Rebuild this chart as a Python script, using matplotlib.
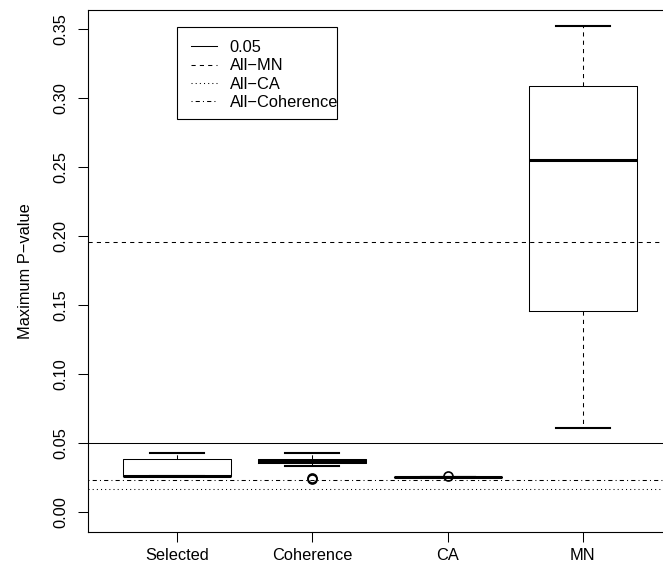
import matplotlib
matplotlib.use("Agg")
import matplotlib.pyplot as plt
from matplotlib.lines import Line2D
from matplotlib.patches import Rectangle

plt.rcParams['font.family'] = ['Liberation Sans', 'DejaVu Sans']

categories = ["Selected", "Coherence", "CA", "MN"]
q1 = [0.0263, 0.0355, 0.0258, 0.1457]
med = [0.0263, 0.0370, 0.0258, 0.2550]
q3 = [0.0386, 0.0385, 0.0258, 0.3090]
whislo = [0.0263, 0.0337, 0.0258, 0.0612]
whishi = [0.0431, 0.0431, 0.0258, 0.3525]
fliers = [[], [0.0240, 0.0250], [0.0260], []]

ref_names = ["0.05", "All\u2212MN", "All\u2212CA", "All\u2212Coherence"]
ref_values = [0.05, 0.1958, 0.0169, 0.0234]
ref_styles = ["-", (0, (4, 4)), (0, (1, 3)), (0, (1, 3, 4, 3))]

yticks = [0.00, 0.05, 0.10, 0.15, 0.20, 0.25, 0.30, 0.35]

FS = 11.8
W, H = 663, 572
fig = plt.figure(figsize=(W / 100, H / 100), dpi=100)
ax = fig.add_axes([88 / W, 40.3 / H, 584 / W, 521.7 / H])

stats = []
for i, c in enumerate(categories):
    stats.append(dict(label=c, q1=q1[i], med=med[i], q3=q3[i],
                      whislo=whislo[i], whishi=whishi[i], fliers=fliers[i]))

lw = 0.75
ax.bxp(stats, positions=range(1, len(categories) + 1), widths=0.8,
       capwidths=0.4, showfliers=True, patch_artist=False,
       boxprops=dict(color="black", linewidth=lw),
       medianprops=dict(color="black", linewidth=2.2, solid_capstyle="butt"),
       whiskerprops=dict(color="black", linewidth=lw, linestyle=(0, (4, 4))),
       capprops=dict(color="black", linewidth=lw * 2),
       flierprops=dict(marker="o", markersize=6.5, markerfacecolor="none",
                       markeredgecolor="black", markeredgewidth=1.2))

for v, s in zip(ref_values, ref_styles):
    ax.axhline(v, color="black", linewidth=lw, linestyle=s)

ax.set_xlim(0.34, 4.66)
ax.set_ylim(-0.014, 0.364)
ax.set_xticks(range(1, len(categories) + 1))
ax.set_xticklabels(categories)
ax.set_yticks(yticks)
ax.set_yticklabels(["%.2f" % t for t in yticks], rotation=90, va="center")
ax.tick_params(axis="both", direction="out", length=7, width=0.75,
               labelsize=FS, color="black")
ax.tick_params(axis="x", pad=5)
ax.tick_params(axis="y", pad=7)
for sp in ax.spines.values():
    sp.set_linewidth(0.8)
    sp.set_color("black")
ax.set_ylabel("Maximum P\u2212value", fontsize=FS, labelpad=15)

handles = [Line2D([], [], color="black", linewidth=lw, linestyle=s) for s in ref_styles]
leg = fig.legend(handles, ref_names, loc="upper left",
                 bbox_to_anchor=(190.7 / W, 1 - 40 / H),
                 fontsize=FS, frameon=False,
                 handlelength=1.62, handletextpad=0.77, labelspacing=0.2,
                 borderpad=0, borderaxespad=0)
fig.add_artist(Rectangle((177.3 / W, 1 - 118.7 / H), 160 / W, 91.4 / H,
                         transform=fig.transFigure, fill=False,
                         edgecolor="black", linewidth=0.8))

fig.savefig("out.png", dpi=100)
